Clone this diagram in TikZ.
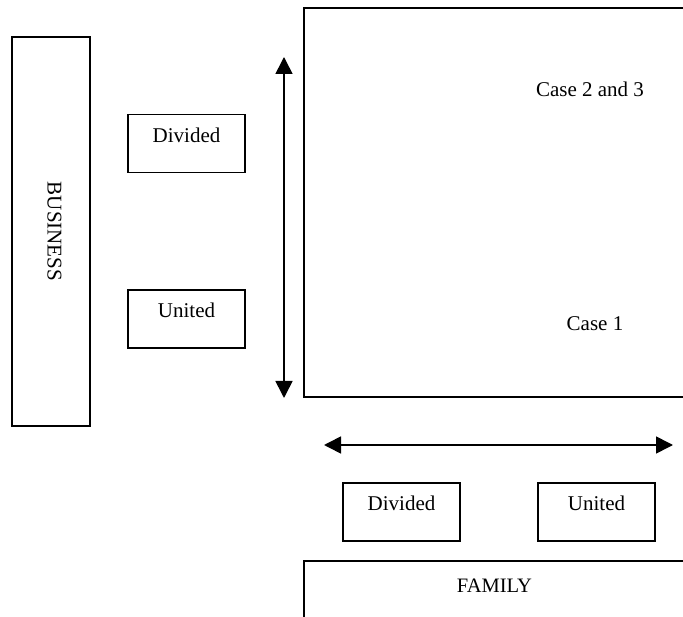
\documentclass[tikz,border=0pt]{standalone}
\usepackage{fontspec}
\setmainfont{Liberation Serif}
\usetikzlibrary{arrows.meta}

\tikzset{
	kasten/.style={draw,minimum width=117pt,minimum height=58pt,text height=14pt,text depth=16pt,font=\fontsize{21}{25}\selectfont},
	schrift/.style={anchor=base,font=\fontsize{21}{25}\selectfont},
	pfeil/.style={{Triangle[width=17pt,length=17pt]}-{Triangle[width=17pt,length=17pt]}}
}

\begin{document}
\begin{tikzpicture}[x=1pt,y=-1pt,line width=1.6pt]
		\useasboundingbox (0,0) rectangle (683,617);
		%Geschaeft links
		\node[draw,rotate=-90,minimum width=389pt,minimum height=78pt,text height=14pt,text depth=7pt,font=\fontsize{21}{25}\selectfont] (geschaeft) at (51,231.5) {BUSINESS};
		\node[kasten] (teilG) at (186.5,143.5) {Divided};
		\node[kasten] (einigG) at (186.5,319) {United};
		%Pfeile
		\coordinate (vo) at (284,57);
		\coordinate (vu) at (284,398);
		\draw[pfeil] (vo) -- (vu);
		\coordinate (hl) at (324,445);
		\coordinate (hr) at (673,445);
		\draw[pfeil] (hl) -- (hr);
		%grosses Feld
		\draw (683,8) -- (304,8) -- (304,397) -- (683,397);
		\node[schrift] (fall23) at (590,97) {Case 2 and 3};
		\node[schrift] (fall1) at (595,331) {Case 1};
		%Familie unten
		\node[kasten] (teilF) at (401.5,512) {Divided};
		\node[kasten] (einigF) at (596.5,512) {United};
		\draw (304,617) -- (304,561) -- (683,561);
		\node[schrift,font=\fontsize{20.5}{24}\selectfont] (familie) at (494.5,592) {FAMILY};
	\end{tikzpicture}
\end{document}
